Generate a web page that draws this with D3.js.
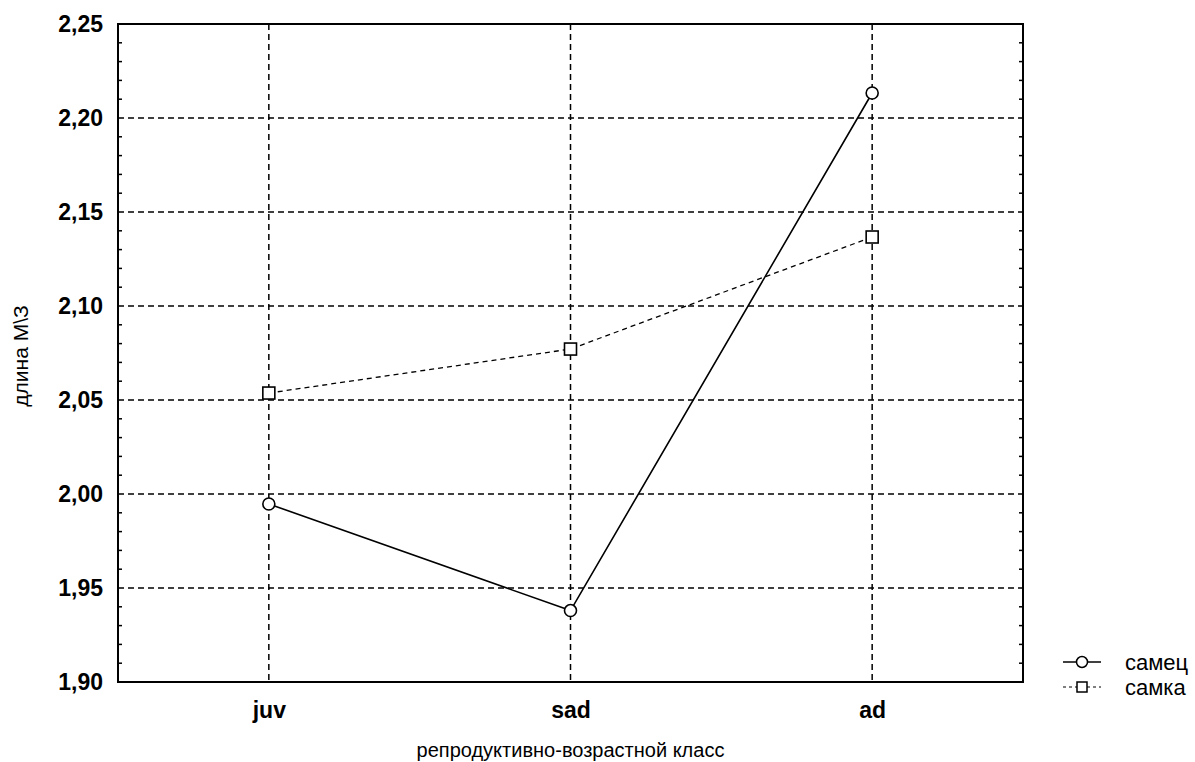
<!DOCTYPE html>
<html>
<head>
<meta charset="utf-8">
<script src="https://cdn.jsdelivr.net/npm/d3@7"></script>
<style>
  body { margin: 0; background: #fff; }
  svg text { font-family: "Liberation Sans", Arial, sans-serif; fill: #000; }
</style>
</head>
<body>
<div id="chart"></div>
<script>
const categories = ['juv', 'sad', 'ad']
const yTicks = [1.90, 1.95, 2.00, 2.05, 2.10, 2.15, 2.20, 2.25]
const samec = [1.9947, 1.938, 2.2133]
const samka = [2.0537, 2.0771, 2.1367]
const seriesNames = ['самец', 'самка']

const width = 1195, height = 762
const margin = { top: 24, right: 172, bottom: 80, left: 118 }
const iw = width - margin.left - margin.right
const ih = height - margin.top - margin.bottom

const svg = d3.select('#chart').append('svg')
  .attr('width', width).attr('height', height)

const g = svg.append('g')
  .attr('transform', 'translate(' + margin.left + ',' + margin.top + ')')

const x = d3.scalePoint().domain(categories).range([0, iw]).padding(0.5)
const y = d3.scaleLinear().domain([1.90, 2.25]).range([ih, 0])

const fmt = d => d3.format('.2f')(d).replace('.', ',')

// grid
g.append('g').selectAll('line').data(yTicks.slice(1, -1)).join('line')
  .attr('x1', 0).attr('x2', iw)
  .attr('y1', d => y(d)).attr('y2', d => y(d))
  .attr('stroke', '#000').attr('stroke-width', 1.5).attr('stroke-dasharray', '6,4')
g.append('g').selectAll('line').data(categories).join('line')
  .attr('x1', d => x(d)).attr('x2', d => x(d))
  .attr('y1', 0).attr('y2', ih)
  .attr('stroke', '#000').attr('stroke-width', 1.5).attr('stroke-dasharray', '6,4')

// minor ticks inside left and right axes
const minor = d3.range(0, 36).map(i => 1.90 + i * 0.01).filter((d, i) => i % 5 !== 0)
g.append('g').selectAll('line').data(minor).join('line')
  .attr('x1', 0).attr('x2', 4).attr('y1', d => y(d)).attr('y2', d => y(d))
  .attr('stroke', '#000').attr('stroke-width', 1.5)
g.append('g').selectAll('line').data(minor).join('line')
  .attr('x1', iw - 4).attr('x2', iw).attr('y1', d => y(d)).attr('y2', d => y(d))
  .attr('stroke', '#000').attr('stroke-width', 1.5)

// frame
g.append('rect').attr('width', iw).attr('height', ih)
  .attr('fill', 'none').attr('stroke', '#000').attr('stroke-width', 2)

// y axis labels
const yAxis = g.append('g')
  .call(d3.axisLeft(y).tickValues(yTicks).tickFormat(fmt).tickSize(0).tickPadding(15))
yAxis.select('.domain').remove()
yAxis.selectAll('text').style('font-size', '23px').style('font-weight', 'bold')
  .style('font-family', '"Liberation Sans", Arial, sans-serif')

// x axis labels
const xAxis = g.append('g').attr('transform', 'translate(0,' + ih + ')')
  .call(d3.axisBottom(x).tickSize(0).tickPadding(20))
xAxis.select('.domain').remove()
xAxis.selectAll('text').style('font-size', '23px').style('font-weight', 'bold')
  .style('font-family', '"Liberation Sans", Arial, sans-serif')

// titles
svg.append('text')
  .attr('x', margin.left + iw / 2).attr('y', 757)
  .attr('text-anchor', 'middle').style('font-size', '20px')
  .text('репродуктивно-возрастной класс')
svg.append('text')
  .attr('transform', 'translate(28,356) rotate(-90)')
  .attr('text-anchor', 'middle').style('font-size', '21px')
  .text('длина М\\З')

const line = d3.line().x((d, i) => x(categories[i])).y(d => y(d))

g.append('path').datum(samka).attr('d', line)
  .attr('fill', 'none').attr('stroke', '#000').attr('stroke-width', 1.3)
  .attr('stroke-dasharray', '5,4')
g.append('path').datum(samec).attr('d', line)
  .attr('fill', 'none').attr('stroke', '#000').attr('stroke-width', 1.6)

g.selectAll('.sq').data(samka).join('rect').attr('class', 'sq')
  .attr('x', (d, i) => x(categories[i]) - 6).attr('y', d => y(d) - 6)
  .attr('width', 12).attr('height', 12)
  .attr('fill', '#fff').attr('stroke', '#000').attr('stroke-width', 1.6)
g.selectAll('.ci').data(samec).join('circle').attr('class', 'ci')
  .attr('cx', (d, i) => x(categories[i])).attr('cy', d => y(d)).attr('r', 6)
  .attr('fill', '#fff').attr('stroke', '#000').attr('stroke-width', 1.6)

// legend
const lg = svg.append('g').attr('transform', 'translate(1063,662)')
lg.append('line').attr('x1', 0).attr('x2', 38).attr('y1', 0).attr('y2', 0)
  .attr('stroke', '#000').attr('stroke-width', 1.5)
lg.append('circle').attr('cx', 19).attr('cy', 0).attr('r', 5.5)
  .attr('fill', '#fff').attr('stroke', '#000').attr('stroke-width', 1.5)
lg.append('text').attr('x', 62).attr('y', 0).attr('dy', '0.35em')
  .style('font-size', '22px').text(seriesNames[0])
lg.append('line').attr('x1', 0).attr('x2', 38).attr('y1', 25).attr('y2', 25)
  .attr('stroke', '#000').attr('stroke-width', 1.2).attr('stroke-dasharray', '3,3')
lg.append('rect').attr('x', 14).attr('y', 20).attr('width', 10).attr('height', 10)
  .attr('fill', '#fff').attr('stroke', '#000').attr('stroke-width', 1.5)
lg.append('text').attr('x', 62).attr('y', 25).attr('dy', '0.35em')
  .style('font-size', '22px').text(seriesNames[1])
</script>
</body>
</html>
